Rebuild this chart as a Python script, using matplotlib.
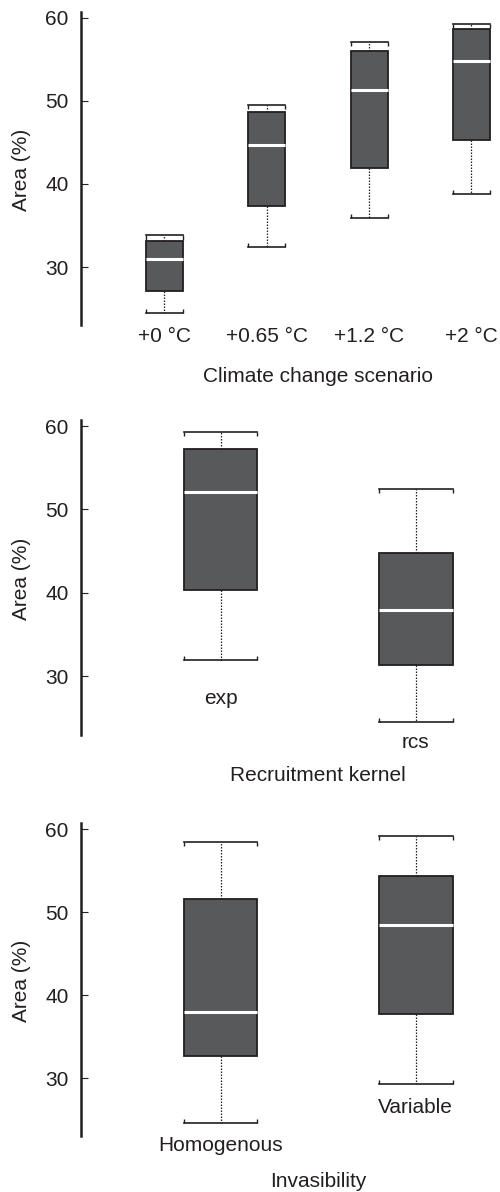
import matplotlib
matplotlib.use("Agg")
import matplotlib.pyplot as plt

plt.rcParams['font.family'] = ['Liberation Sans', 'DejaVu Sans']

INK = '#231f20'
FILL = '#58595b'

# Five-number summaries (whisker low, Q1, median, Q3, whisker high), Area (%)
climate_labels = ['+0 °C', '+0.65 °C', '+1.2 °C', '+2 °C']
climate_low = [24.5, 32.4, 35.9, 38.8]
climate_q1 = [27.1, 37.4, 41.9, 45.3]
climate_med = [31.0, 44.7, 51.3, 54.8]
climate_q3 = [33.1, 48.6, 56.0, 58.6]
climate_high = [33.8, 49.5, 57.1, 59.2]

kernel_labels = ['exp', 'rcs']
kernel_low = [31.9, 24.5]
kernel_q1 = [40.3, 31.3]
kernel_med = [52.05, 38.0]
kernel_q3 = [57.2, 44.75]
kernel_high = [59.25, 52.45]

invas_labels = ['Homogenous', 'Variable']
invas_low = [24.6, 29.3]
invas_q1 = [32.7, 37.7]
invas_med = [38.0, 48.45]
invas_q3 = [51.55, 54.4]
invas_high = [58.45, 59.25]

yticks = [30, 40, 50, 60]

W, H = 500, 1192
fig = plt.figure(figsize=(W / 100, H / 100), dpi=100)


def px_axes(top, bottom, left=81, right=500):
    return fig.add_axes([left / W, 1 - bottom / H, (right - left) / W, (bottom - top) / H])


def draw_panel(ax, labels, lo, q1, med, q3, hi, width, xlim, label_offsets,
               xlabel, xlabel_offset):
    positions = list(range(1, len(labels) + 1))
    stats = [dict(whislo=a, q1=b, med=c, q3=d, whishi=e, fliers=[])
             for a, b, c, d, e in zip(lo, q1, med, q3, hi)]
    ax.bxp(stats, positions=positions, widths=width, capwidths=width,
           patch_artist=True, showfliers=False, manage_ticks=False,
           boxprops=dict(facecolor=FILL, edgecolor=INK, linewidth=1.3),
           medianprops=dict(color='white', linewidth=2.2, solid_capstyle='butt'),
           whiskerprops=dict(color=INK, linewidth=0.9, linestyle=(0, (1.2, 1.2))),
           capprops=dict(color=INK, linewidth=1.2))
    # small serifs at the ends of each whisker cap
    serif = 0.5
    for p, a, e in zip(positions, lo, hi):
        for xe in (p - width / 2, p + width / 2):
            ax.vlines(xe, e - serif, e, color=INK, linewidth=1.0)
            ax.vlines(xe, a, a + serif, color=INK, linewidth=1.0)

    ax.set_xlim(*xlim)
    ax.set_ylim(23, 60.7)
    ax.set_yticks(yticks)
    ax.set_xticks([])
    for side in ('top', 'right', 'bottom'):
        ax.spines[side].set_visible(False)
    ax.spines['left'].set_color(INK)
    ax.spines['left'].set_linewidth(1.8)
    ax.tick_params(axis='y', direction='in', length=5, width=0.8, color=INK,
                   labelsize=15, labelcolor=INK, pad=9)
    ax.patch.set_visible(False)

    for p, lab, off in zip(positions, labels, label_offsets):
        ax.annotate(lab, xy=(p, 0), xycoords=('data', 'axes fraction'),
                    xytext=(0, -off), textcoords='offset points',
                    ha='center', va='baseline', fontsize=15, color=INK,
                    annotation_clip=False)
    ax.annotate(xlabel, xy=(0.566, 0), xycoords='axes fraction',
                xytext=(0, -xlabel_offset), textcoords='offset points',
                ha='center', va='baseline', fontsize=15, color=INK)
    ax.text(-0.141, 0.497, 'Area (%)', transform=ax.transAxes, rotation=90,
            ha='center', va='center', fontsize=15, color=INK)


ax1 = px_axes(11.7, 325.3)
draw_panel(ax1, climate_labels, climate_low, climate_q1, climate_med, climate_q3,
           climate_high, 0.361, (0.184, 4.279), [11.8] * 4,
           'Climate change scenario', 41)

ax2 = px_axes(420.2, 734.7)
draw_panel(ax2, kernel_labels, kernel_low, kernel_q1, kernel_med, kernel_q3,
           kernel_high, 0.377, (0.2857, 2.431), [-22.1, 9.8],
           'Recruitment kernel', 33.1)

ax3 = px_axes(823.5, 1136.4)
draw_panel(ax3, invas_labels, invas_low, invas_q1, invas_med, invas_q3,
           invas_high, 0.377, (0.2857, 2.431), [10.5, -16.6],
           'Invasibility', 36.2)

fig.savefig('out.png', dpi=100, facecolor='white')
